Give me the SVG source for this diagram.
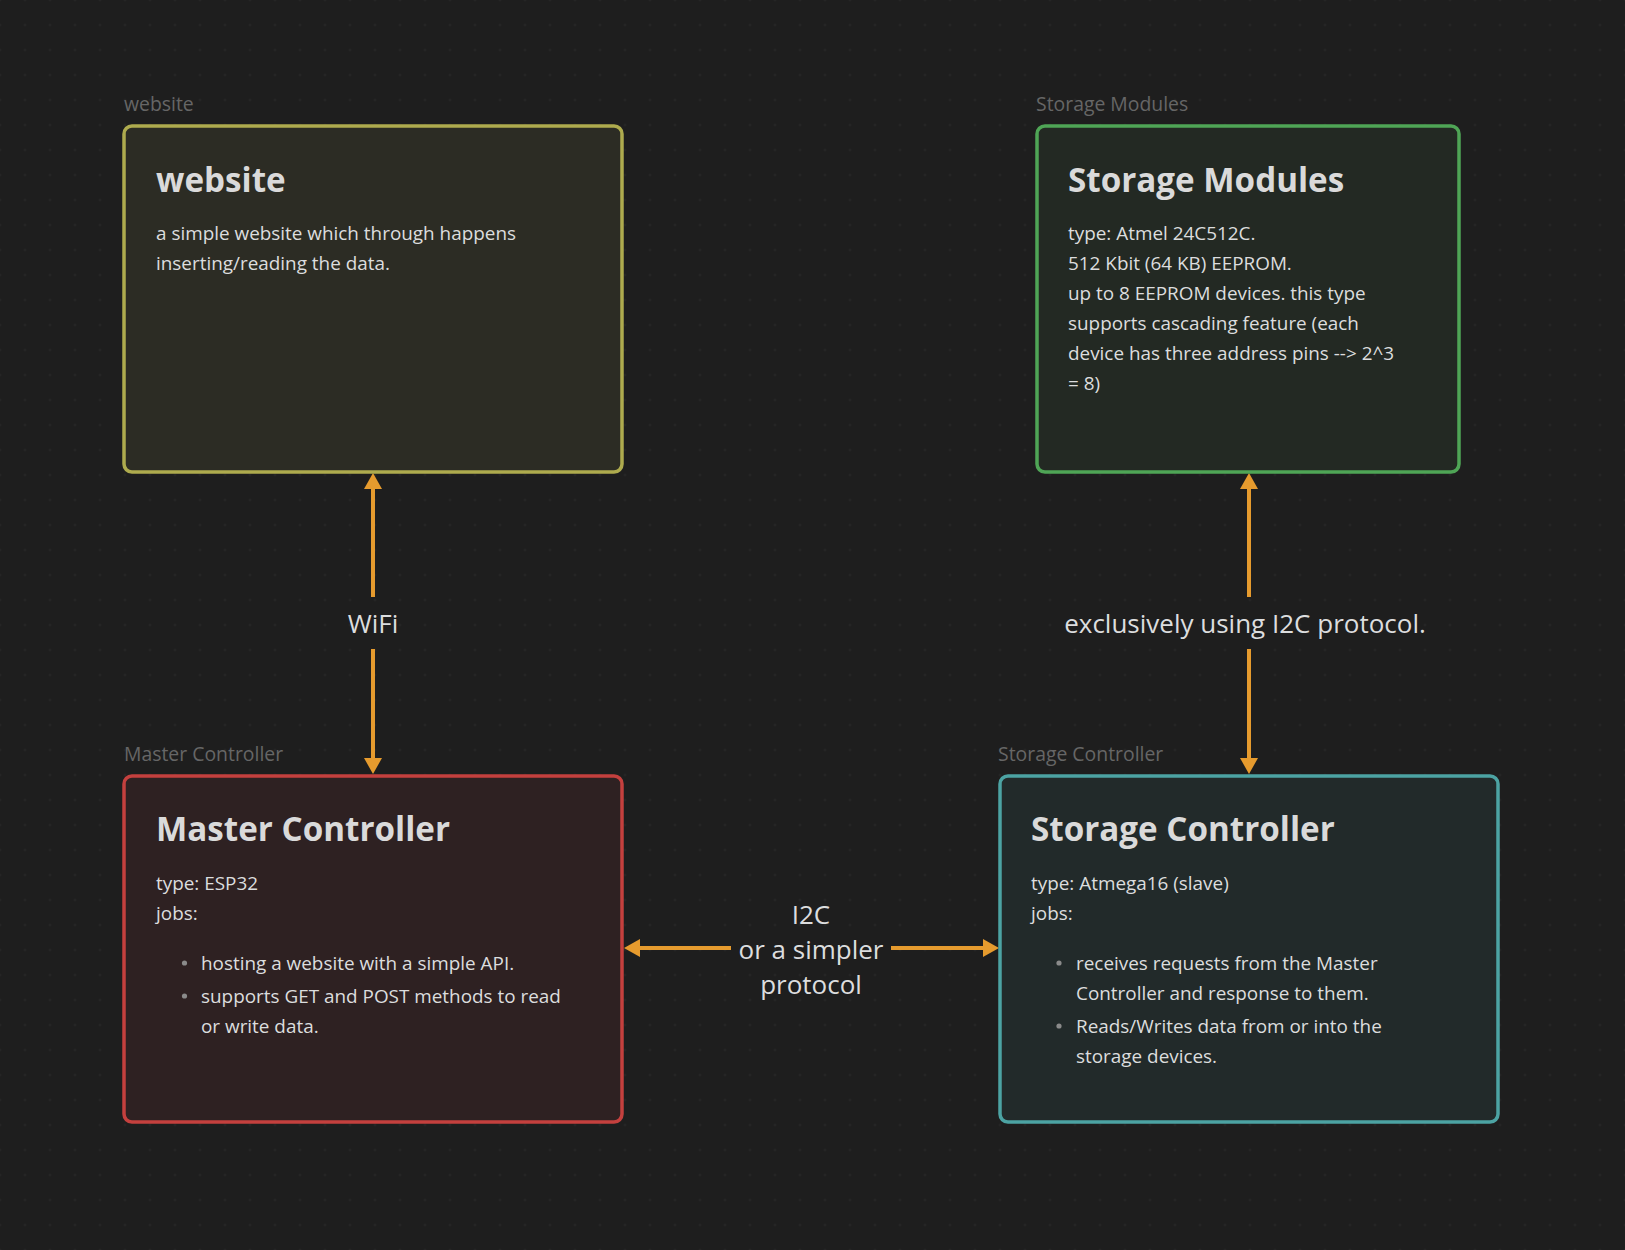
<svg xmlns="http://www.w3.org/2000/svg" width="1625" height="1250" viewBox="0 0 1625 1250">
<style>
.bg{fill:#1e1e1e}
.box{stroke-width:3.5}
.title{font-family:"Open Sans","Noto Sans",sans-serif;font-weight:700;font-size:33.2px;fill:#dadada}
.body{font-family:"Open Sans","Noto Sans",sans-serif;font-size:18.9px;fill:#dcddde}
.lbl{font-family:"Open Sans","Noto Sans",sans-serif;font-size:19.4px;fill:#666666}
.elbl{font-family:"Open Sans","Noto Sans",sans-serif;font-size:26px;fill:#dcddde;text-anchor:middle}
.edge{stroke:#e69b2e;stroke-width:4;fill:none}
.dot{fill:#8a8a8a}
</style>
<defs>
<pattern id="grid" x="-12.5" y="-12.5" width="25" height="25" patternUnits="userSpaceOnUse">
<circle cx="12.5" cy="12.5" r="1" fill="#2c2c2c"/>
</pattern>
<marker id="arr" viewBox="0 0 16 18" markerWidth="16" markerHeight="18" refX="0" refY="9" orient="auto" markerUnits="userSpaceOnUse">
<path d="M0,0 L16,9 L0,18 z" fill="#e69b2e"/>
</marker>
</defs>
<rect class="bg" x="0" y="0" width="1625" height="1250"/>
<rect x="0" y="0" width="1625" height="1250" fill="url(#grid)"/>

<g id="connectors">
<line class="edge" x1="373" y1="597" x2="373" y2="489" marker-end="url(#arr)"/>
<line class="edge" x1="373" y1="649" x2="373" y2="758" marker-end="url(#arr)"/>
<text class="elbl" x="373" y="633">WiFi</text>
<line class="edge" x1="1249" y1="597" x2="1249" y2="489" marker-end="url(#arr)"/>
<line class="edge" x1="1249" y1="649" x2="1249" y2="758" marker-end="url(#arr)"/>
<text class="elbl" x="1245" y="633">exclusively using I2C protocol.</text>
<line class="edge" x1="731" y1="948" x2="640" y2="948" marker-end="url(#arr)"/>
<line class="edge" x1="891" y1="948" x2="983" y2="948" marker-end="url(#arr)"/>
<text class="elbl" x="811" y="924">I2C</text>
<text class="elbl" x="811" y="959">or a simpler</text>
<text class="elbl" x="811" y="994">protocol</text>
</g>

<g id="website">
<text class="lbl" x="124" y="111">website</text>
<rect class="box" x="124" y="126" width="498" height="346" rx="8" fill="#2c2c24" stroke="#aeab4e"/>
<text class="title" x="156" y="192">website</text>
<text class="body" x="156" y="240">a simple website which through happens</text>
<text class="body" x="156" y="270">inserting/reading the data.</text>
</g>

<g id="storage-modules">
<text class="lbl" x="1036" y="111">Storage Modules</text>
<rect class="box" x="1037" y="126" width="422" height="346" rx="8" fill="#232923" stroke="#4fa556"/>
<text class="title" x="1068" y="192">Storage Modules</text>
<text class="body" x="1068" y="240">type: Atmel 24C512C.</text>
<text class="body" x="1068" y="270">512 Kbit (64 KB) EEPROM.</text>
<text class="body" x="1068" y="300">up to 8 EEPROM devices. this type</text>
<text class="body" x="1068" y="330">supports cascading feature (each</text>
<text class="body" x="1068" y="360">device has three address pins --&gt; 2^3</text>
<text class="body" x="1068" y="390">= 8)</text>
</g>

<g id="master-controller">
<text class="lbl" x="124" y="761">Master Controller</text>
<rect class="box" x="124" y="776" width="498" height="346" rx="8" fill="#2e2122" stroke="#c4403e"/>
<text class="title" x="156" y="841">Master Controller</text>
<text class="body" x="156" y="890">type: ESP32</text>
<text class="body" x="156" y="920">jobs:</text>
<circle class="dot" cx="184.5" cy="963" r="2.6"/>
<text class="body" x="201" y="970">hosting a website with a simple API.</text>
<circle class="dot" cx="184.5" cy="996" r="2.6"/>
<text class="body" x="201" y="1003">supports GET and POST methods to read</text>
<text class="body" x="201" y="1033">or write data.</text>
</g>

<g id="storage-controller">
<text class="lbl" x="998" y="761">Storage Controller</text>
<rect class="box" x="1000" y="776" width="498" height="346" rx="8" fill="#222a2a" stroke="#4ca3a3"/>
<text class="title" x="1031" y="841">Storage Controller</text>
<text class="body" x="1031" y="890">type: Atmega16 (slave)</text>
<text class="body" x="1031" y="920">jobs:</text>
<circle class="dot" cx="1059" cy="963" r="2.6"/>
<text class="body" x="1076" y="970">receives requests from the Master</text>
<text class="body" x="1076" y="1000">Controller and response to them.</text>
<circle class="dot" cx="1059" cy="1026" r="2.6"/>
<text class="body" x="1076" y="1033">Reads/Writes data from or into the</text>
<text class="body" x="1076" y="1063">storage devices.</text>
</g>
</svg>
